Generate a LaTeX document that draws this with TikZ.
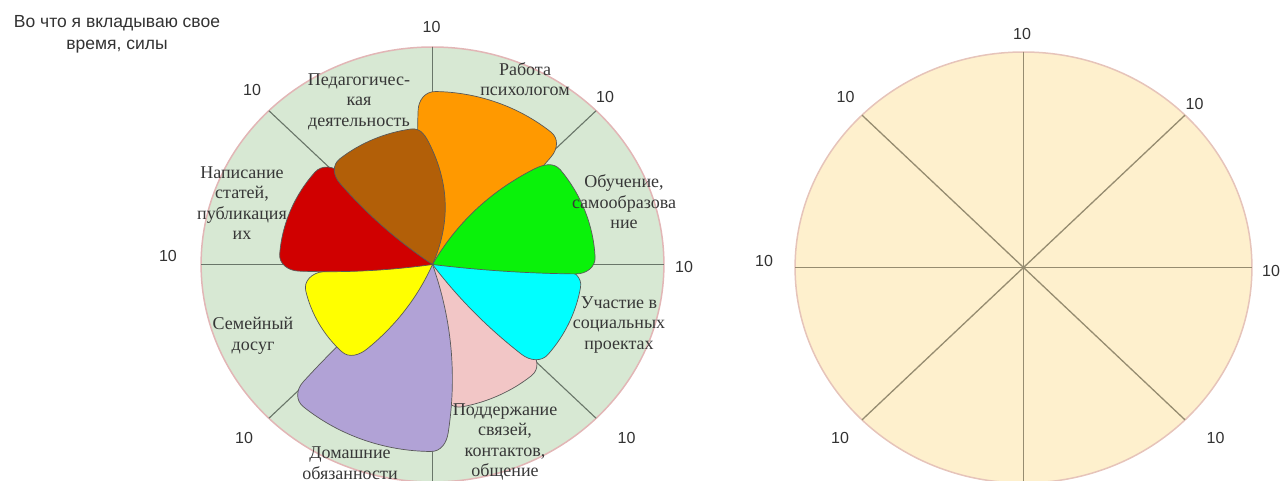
\documentclass[tikz,border=0pt]{standalone}
\usepackage{fontspec}
\setmainfont{Liberation Serif}
\newfontfamily\arialf{Liberation Sans}
\usetikzlibrary{calc}
\definecolor{wheelbg}{RGB}{215,232,211}
\definecolor{wheelrim}{RGB}{226,182,182}
\definecolor{wheelspoke}{RGB}{105,118,105}
\definecolor{blankbg}{RGB}{254,240,205}
\definecolor{blankrim}{RGB}{230,196,186}
\definecolor{blankspoke}{RGB}{150,140,112}
\definecolor{numgray}{RGB}{50,50,50}
\definecolor{labgray}{RGB}{55,55,55}
\definecolor{cpink}{RGB}{242,198,198}
\definecolor{ccyan}{RGB}{0,255,255}
\definecolor{clav}{RGB}{177,162,214}
\definecolor{cyellow}{RGB}{255,255,0}
\definecolor{cred}{RGB}{208,0,0}
\definecolor{corange}{RGB}{255,153,0}
\definecolor{cgreen}{RGB}{10,242,10}
\definecolor{cbrown}{RGB}{178,95,8}
\def\petRC{18}
% #1 colour, #2 a1, #3 a2, #4 radius, #5 bulge of side a1, #6 bulge of side a2
\newcommand\petal[6]{%
  \begin{scope}[rotate=#2]
    \pgfmathsetmacro\petS{#3-#2}%
    \pgfmathsetmacro\petR{#4}%
    \pgfmathsetmacro\petL{#4-\petRC}%
    \pgfmathsetmacro\petD{\petRC/#4*57.2958}%
    \pgfmathsetmacro\petE{\petS-\petD}%
    \pgfmathsetmacro\petPa{atan(4*#5/\petL)}%
    \pgfmathsetmacro\petPb{atan(4*#6/\petL)}%
    \pgfmathsetmacro\petK{0.55*\petRC}%
    \filldraw[petalline, fill=#1]
      (0,0) .. controls ({\petL/3},{-4*#5/3}) and ({2*\petL/3},{-4*#5/3}) .. (\petL,0)
      .. controls ($(\petL,0)+(\petPa:\petK)$) and ($(\petD:\petR)+({\petD-90}:\petK)$) .. (\petD:\petR)
      arc[start angle=\petD, end angle=\petE, radius=\petR]
      .. controls ($(\petE:\petR)+({\petE+90}:\petK)$) and ($(\petS:\petL)+({\petS-\petPb}:\petK)$) .. (\petS:\petL)
      .. controls ($(\petS:{2*\petL/3})+({\petS+90}:{4*#6/3})$) and ($(\petS:{\petL/3})+({\petS+90}:{4*#6/3})$) .. (0,0) -- cycle;
  \end{scope}}
\begin{document}
\begin{tikzpicture}[x=1pt,y=-1pt,
  num/.style={font=\arialf\fontsize{16}{16}\selectfont, text=numgray, inner sep=0pt},
  lab/.style={font=\fontsize{18}{20.5}\selectfont, text=labgray, align=center, inner sep=0pt},
  petalline/.style={draw=black!65, line width=0.7pt},
  wspoke/.style={draw=wheelspoke, line width=1.1pt},
  bspoke/.style={draw=blankspoke, line width=1.3pt}]
\useasboundingbox (0,0) rectangle (1282,481);
\clip (0,0) rectangle (1282,481);

% title
\node[font=\arialf\fontsize{17.5}{22}\selectfont, text=numgray, align=center, inner sep=0pt] (title) at (117,34) {Во что я вкладываю свое\\время, силы};

% ---------- left wheel ----------
\coordinate (LC) at (432.5,264.5);
\begin{scope}[shift={(LC)}, xscale=1.064, y=1pt]
  \filldraw[fill=wheelbg, draw=wheelrim, line width=1.5pt] (0,0) circle[radius=217.5];
  \foreach \a in {0,45,...,315} \draw[wspoke] (0,0) -- (\a:217.5);
  \petal{cpink}{274}{317}{145}{5}{4}
  \petal{ccyan}{313}{358}{141}{4}{3}
  \petal{clav}{224}{275}{187}{4}{10}
  \petal{cyellow}{184}{234}{122}{2}{6}
  \petal{cred}{133}{183}{144}{4}{3}
  \petal{corange}{44}{95}{173}{5}{5}
  \petal{cgreen}{-4}{45}{153}{2}{10}
  \petal{cbrown}{91}{137}{137}{13}{4}
\end{scope}

\node[lab] (l1) at (359,101.5) {Педагогичес-\\кая\\деятельность};
\node[lab] (l2) at (525,79) {Работа\\психологом};
\node[lab] (l3) at (624,202) {Обучение,\\самообразова\\ние};
\node[lab] (l4) at (619,325) {Участие в\\социальных\\проектах};
\node[lab] (l5) at (505,442) {Поддержание\\связей,\\контактов,\\общение};
\node[lab] (l6) at (350,463) {Домашние\\обязанности};
\node[lab] (l7) at (253,336) {Семейный\\досуг};
\node[lab] (l8) at (242,203) {Написание\\статей,\\публикация\\их};

\node[num] (ln1) at (431.5,27) {10};
\node[num] (ln2) at (605,97) {10};
\node[num] (ln3) at (684,267) {10};
\node[num] (ln4) at (626.5,438) {10};
\node[num] (ln5) at (244,438) {10};
\node[num] (ln6) at (168,256) {10};
\node[num] (ln7) at (252,90) {10};

% ---------- right blank wheel ----------
\coordinate (RC) at (1023.5,267.5);
\begin{scope}[shift={(RC)}, xscale=1.060, y=1pt]
  \filldraw[fill=blankbg, draw=blankrim, line width=1.5pt] (0,0) circle[radius=215.5];
  \foreach \a in {0,45,...,315} \draw[bspoke] (0,0) -- (\a:215.5);
\end{scope}

\node[num] (rn1) at (1022,34) {10};
\node[num] (rn2) at (1194.5,104) {10};
\node[num] (rn3) at (1271,271) {10};
\node[num] (rn4) at (1215.5,438) {10};
\node[num] (rn5) at (840,438) {10};
\node[num] (rn6) at (764,261) {10};
\node[num] (rn7) at (845.5,97) {10};
\end{tikzpicture}
\end{document}
